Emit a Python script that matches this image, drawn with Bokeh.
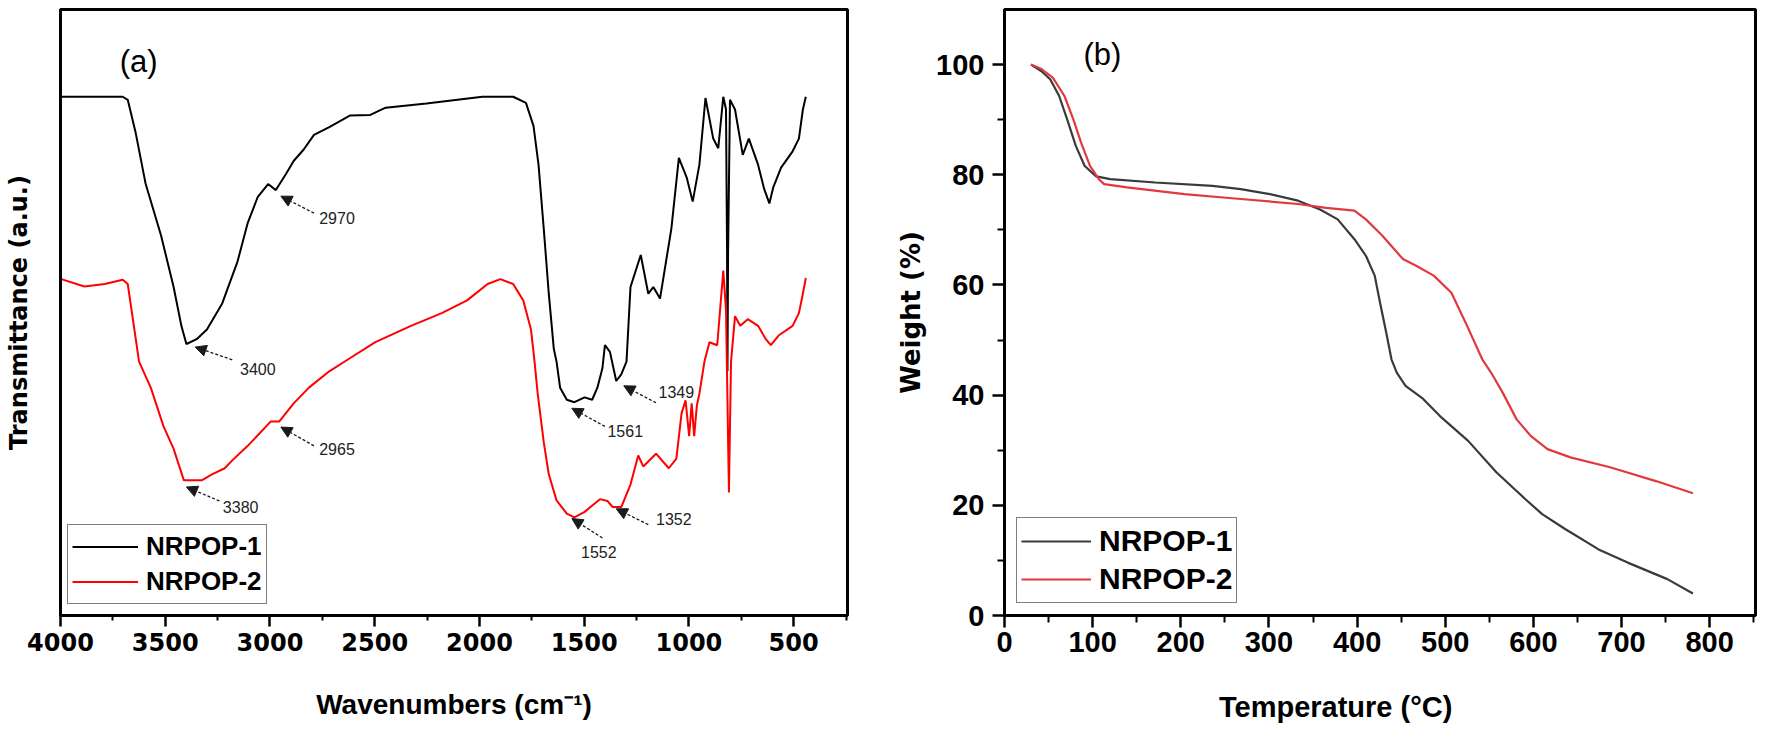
from bokeh.plotting import figure
from bokeh.layouts import row
from bokeh.models import (Range1d, FixedTicker, Legend, LegendItem, Arrow, NormalHead,
                          ColumnDataSource)
from bokeh.embed import file_html
from bokeh.resources import INLINE
from bokeh.core.properties import value

# ---------------- Panel (a): FTIR ----------------
ftir1_wn = [3996, 3703, 3679, 3642, 3594, 3520, 3460, 3423, 3399, 3350, 3301, 3228, 3155, 3106, 3058,
            3009, 2972, 2923, 2887, 2839, 2790, 2717, 2619, 2521, 2448, 2253, 1986, 1839, 1778, 1742,
            1718, 1693, 1669, 1645, 1632, 1615, 1583, 1547, 1498, 1462, 1437, 1413, 1401, 1377, 1347,
            1323, 1298, 1279, 1230, 1194, 1170, 1138, 1084, 1048, 1011, 982, 950, 921, 884, 860, 836,
            823, 818, 816, 813, 804, 780, 743, 714, 670, 641, 616, 597, 560, 505, 475, 456, 442]
ftir1_t = [85.6, 85.6, 85.1, 79.8, 71.3, 62.7, 54.2, 47.8, 44.8, 45.6, 47.2, 51.5, 58.4, 64.8, 69.1,
           71.2, 70.2, 72.9, 75.0, 76.9, 79.3, 80.6, 82.5, 82.6, 83.8, 84.5, 85.6, 85.6, 84.6, 80.8,
           74.4, 63.8, 53.1, 44.0, 41.9, 37.6, 35.6, 35.2, 36.0, 35.6, 37.6, 40.8, 44.6, 43.5, 38.7,
           39.8, 41.9, 54.2, 59.5, 53.1, 54.2, 52.3, 63.8, 75.5, 72.3, 68.3, 74.4, 85.4, 78.7, 77.1, 85.6,
           83.5, 60.0, 40.3, 60.0, 85.1, 83.5, 76.0, 78.7, 74.4, 70.4, 68.0, 70.7, 73.9, 76.6, 78.7, 83.5, 85.6]

ftir2_wn = [3996, 3886, 3789, 3703, 3679, 3625, 3569, 3509, 3460, 3411, 3326, 3277, 3216, 3180, 3106,
            2997, 2956, 2887, 2814, 2717, 2630, 2497, 2327, 2180, 2059, 1961, 1900, 1839, 1791, 1754,
            1737, 1722, 1693, 1669, 1632, 1583, 1547, 1498, 1425, 1389, 1364, 1323, 1279, 1242, 1218,
            1157, 1096, 1060, 1035, 1016, 999, 987, 975, 962, 950, 926, 902, 865, 836, 823, 809, 799,
            780, 755, 719, 670, 633, 609, 572, 505, 475, 456, 442]
ftir2_t = [55.5, 54.3, 54.7, 55.4, 54.7, 41.9, 37.6, 31.3, 27.5, 22.3, 22.3, 23.3, 24.3, 25.6, 28.0,
           32.0, 32.0, 35.0, 37.6, 40.3, 42.2, 45.1, 47.8, 49.9, 52.0, 54.7, 55.5, 54.7, 52.0, 47.2,
           41.9, 36.6, 28.6, 23.3, 19.0, 16.8, 16.2, 17.1, 19.2, 18.9, 17.9, 17.9, 21.6, 26.4, 24.6,
           26.7, 24.3, 25.9, 33.4, 35.5, 29.6, 35.0, 29.6, 34.7, 36.6, 41.9, 45.1, 44.6, 56.9, 50.4, 20.3, 41.9,
           49.4, 47.8, 48.9, 47.8, 45.6, 44.6, 46.2, 47.8, 49.9, 53.1, 55.7]

peak_labels = ["2970", "3400", "2965", "3380", "1561", "1349", "1552", "1352"]
peak_label_x = [2680, 3058, 2680, 3140, 1304, 1060, 1430, 1072]
peak_label_y = [65.6, 40.7, 27.4, 17.9, 30.4, 36.9, 10.5, 16.0]
arrow_tail_x = [2790, 3180, 2790, 3241, 1401, 1157, 1413, 1194]
arrow_tail_y = [66.4, 42.2, 28.0, 18.9, 31.2, 35.1, 12.8, 15.0]
arrow_head_x = [2948, 3357, 2948, 3399, 1559, 1311, 1559, 1347]
arrow_head_y = [69.2, 44.3, 31.1, 21.2, 34.2, 37.9, 16.0, 17.6]

ftir_xticks = [4000, 3500, 3000, 2500, 2000, 1500, 1000, 500]
ftir_xminor = [3750, 3250, 2750, 2250, 1750, 1250, 750, 250]

# ---------------- Panel (b): TGA ----------------
tga1_T = [30, 42, 52, 62, 71, 81, 91, 104, 120, 171, 236, 268, 301, 333, 358, 378, 397, 410, 420,
          426, 433, 439, 445, 455, 475, 494, 526, 558, 591, 610, 636, 674, 707, 752, 781]
tga1_W = [100.0, 98.8, 97.3, 94.3, 90.1, 85.2, 81.6, 79.7, 79.2, 78.6, 78.0, 77.4, 76.5, 75.3, 73.7,
          71.9, 68.3, 65.3, 61.7, 56.8, 51.4, 46.5, 44.1, 41.7, 39.3, 36.2, 31.7, 26.0, 21.1, 18.4,
          15.7, 12.0, 9.6, 6.6, 4.0]
tga2_T = [30, 42, 55, 68, 78, 87, 97, 107, 113, 139, 204, 268, 333, 365, 397, 410, 429, 452, 468,
          487, 507, 523, 542, 552, 565, 581, 597, 616, 642, 687, 739, 781]
tga2_W = [100.0, 99.2, 97.6, 94.3, 90.1, 85.8, 81.6, 79.2, 78.3, 77.7, 76.5, 75.6, 74.7, 74.0, 73.5,
          71.9, 68.9, 64.7, 63.4, 61.7, 58.6, 53.2, 46.5, 44.1, 40.5, 35.6, 32.6, 30.2, 28.7, 26.9,
          24.4, 22.2]

tga_xticks = [0, 100, 200, 300, 400, 500, 600, 700, 800]
tga_xminor = [50, 150, 250, 350, 450, 550, 650, 750, 850]
tga_yticks = [0, 20, 40, 60, 80, 100]
tga_yminor = [10, 30, 50, 70, 90]

series_names = ["NRPOP-1", "NRPOP-2"]


def base_style(p):
    p.xgrid.visible = False
    p.ygrid.visible = False
    p.outline_line_color = "black"
    p.outline_line_width = 3
    p.background_fill_color = "white"
    p.border_fill_color = "white"
    for ax in (p.xaxis[0], p.yaxis[0]):
        ax.axis_line_width = 3
        ax.axis_line_color = "black"
        ax.major_tick_in = 0
        ax.minor_tick_in = 0
        ax.major_tick_line_width = 2.5
        ax.minor_tick_line_width = 2
        ax.major_tick_line_color = "black"
        ax.minor_tick_line_color = "black"
        ax.major_label_text_color = "black"
        ax.axis_label_text_color = "black"
        ax.axis_label_text_font_style = "bold"
        ax.major_label_text_font_style = "bold"


# ---------- figure (a) ----------
pa = figure(width=872, height=725, x_range=Range1d(4000, 243), y_range=Range1d(0, 100),
            output_backend="svg", toolbar_location=None,
            min_border_left=60, min_border_right=25, min_border_top=1, min_border_bottom=101)
base_style(pa)
pa.xaxis.ticker = FixedTicker(ticks=ftir_xticks, minor_ticks=ftir_xminor)
pa.xaxis.major_tick_out = 11
pa.xaxis.minor_tick_out = 5
pa.xaxis.major_label_text_font = "DejaVu Sans"
pa.xaxis.major_label_text_font_size = "24px"
pa.xaxis.major_label_standoff = 6
pa.xaxis.axis_label = "Wavenumbers (cm\u207b\u00b9)"
pa.xaxis.axis_label_text_font = "Liberation Sans"
pa.xaxis.axis_label_text_font_size = "28px"
pa.xaxis.axis_label_standoff = 35

pa.yaxis.ticker = FixedTicker(ticks=[])
pa.yaxis.major_tick_out = 0
pa.yaxis.minor_tick_out = 0
pa.yaxis.axis_label = "Transmittance (a.u.)"
pa.yaxis.axis_label_text_font = "DejaVu Sans"
pa.yaxis.axis_label_text_font_size = "24px"
pa.yaxis.axis_label_standoff = 28

ra1 = pa.line(ftir1_wn, ftir1_t, line_color="black", line_width=2)
ra2 = pa.line(ftir2_wn, ftir2_t, line_color="#ff0000", line_width=2)

arrow_src = ColumnDataSource(dict(xs=arrow_tail_x, ys=arrow_tail_y, xe=arrow_head_x, ye=arrow_head_y))
pa.add_layout(Arrow(source=arrow_src, x_start="xs", y_start="ys", x_end="xe", y_end="ye",
                    line_color="#1a1a1a", line_width=1.3, line_dash="3 2",
                    end=NormalHead(size=11, fill_color="#1a1a1a", line_color="#1a1a1a", line_width=1)))
pa.text(x=peak_label_x, y=peak_label_y, text=peak_labels, text_align="center", text_baseline="middle",
        text_font=value("Liberation Sans"), text_font_size="16px", text_color="#222222")
pa.text(x=[3627], y=[91.5], text=["(a)"], text_align="center", text_baseline="middle",
        text_font=value("Liberation Sans"), text_font_size="31px", text_color="black")

leg_a = Legend(items=[LegendItem(label=series_names[0], renderers=[ra1]),
                      LegendItem(label=series_names[1], renderers=[ra2])],
               location=(7, 11), orientation="vertical",
               label_text_font="Liberation Sans", label_text_font_style="bold",
               label_text_font_size="26px", label_text_color="black",
               glyph_width=66, glyph_height=35, label_height=35, label_standoff=8,
               padding=4, spacing=0, margin=0,
               border_line_color="black", border_line_width=1.5, background_fill_alpha=1)
pa.add_layout(leg_a)

# ---------- figure (b) ----------
pb = figure(width=887, height=725, x_range=Range1d(0, 852), y_range=Range1d(0, 110),
            output_backend="svg", toolbar_location=None,
            min_border_left=132, min_border_right=4, min_border_top=9, min_border_bottom=110)
base_style(pb)
pb.xaxis.ticker = FixedTicker(ticks=tga_xticks, minor_ticks=tga_xminor)
pb.yaxis.ticker = FixedTicker(ticks=tga_yticks, minor_ticks=tga_yminor)
for ax in (pb.xaxis[0], pb.yaxis[0]):
    ax.major_tick_out = 12
    ax.minor_tick_out = 7
    ax.major_label_text_font = "Liberation Sans"
    ax.major_label_text_font_size = "29px"
pb.xaxis.major_label_standoff = 4
pb.yaxis.major_label_standoff = 8
# trailing no-break spaces shift the centred title left, as in the original
pb.xaxis.axis_label = "Temperature (\u00b0C)" + "\u00a0" * 11
pb.xaxis.axis_label_text_font = "Liberation Sans"
pb.xaxis.axis_label_text_font_size = "29px"
pb.xaxis.axis_label_standoff = 36
pb.yaxis.axis_label = "Weight (%)"
pb.yaxis.axis_label_text_font = "DejaVu Sans"
pb.yaxis.axis_label_text_font_size = "26px"
pb.yaxis.axis_label_standoff = 7

rb1 = pb.line(tga1_T, tga1_W, line_color="#3a3a3a", line_width=2.2)
rb2 = pb.line(tga2_T, tga2_W, line_color="#e2393c", line_width=2.2)
pb.text(x=[111], y=[101.8], text=["(b)"], text_align="center", text_baseline="middle",
        text_font=value("Liberation Sans"), text_font_size="31px", text_color="black")

leg_b = Legend(items=[LegendItem(label=series_names[0], renderers=[rb1]),
                      LegendItem(label=series_names[1], renderers=[rb2])],
               location=(12, 12), orientation="vertical",
               label_text_font="Liberation Sans", label_text_font_style="bold",
               label_text_font_size="30px", label_text_color="black",
               glyph_width=70, glyph_height=38, label_height=38, label_standoff=8,
               padding=4, spacing=0, margin=0,
               border_line_color="black", border_line_width=1.5, background_fill_alpha=1)
pb.add_layout(leg_b)

layout = row(pa, pb)
open("out.html", "w").write(file_html(layout, INLINE))
